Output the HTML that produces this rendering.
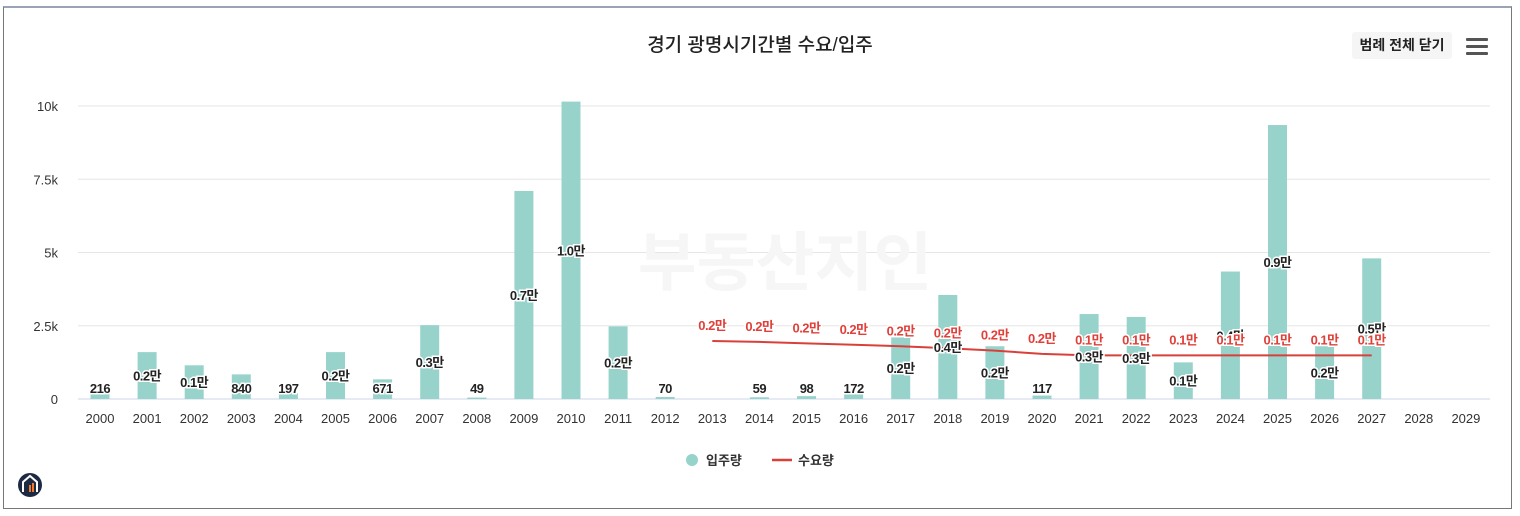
<!DOCTYPE html>
<html><head><meta charset="utf-8">
<style>
html,body{margin:0;padding:0;background:#fff;}
body{width:1520px;height:516px;overflow:hidden;position:relative;font-family:"Liberation Sans","Noto Sans CJK KR",sans-serif;}
#frame{position:absolute;left:3px;top:6px;width:1509px;height:503px;border:1px solid #777;border-top:2px solid #9aa4b4;box-sizing:border-box;}
#title{position:absolute;left:0;width:1520px;top:30px;text-align:center;font-size:19px;color:#222;font-weight:500;}
#legend-btn{position:absolute;left:1352px;top:32px;width:100px;height:27px;background:#f5f5f5;border-radius:3px;font-size:14px;font-weight:bold;color:#222;text-align:center;line-height:27px;}
#menu{position:absolute;left:1466px;top:38px;width:22px;height:17px;}
#menu div{height:3px;background:#555;margin-bottom:4px;border-radius:1px;}
svg{position:absolute;left:0;top:0;}
</style></head><body>
<div id="frame"></div>
<div id="title">경기 광명시기간별 수요/입주</div>
<div id="legend-btn">범례 전체 닫기</div>
<div id="menu"><div></div><div></div><div></div></div>
<svg id="chart" width="1520" height="516"></svg>
<script>
const years=[2000,2001,2002,2003,2004,2005,2006,2007,2008,2009,2010,2011,2012,2013,2014,2015,2016,2017,2018,2019,2020,2021,2022,2023,2024,2025,2026,2027,2028,2029];
const supply=[216,1600,1150,840,197,1600,671,2520,49,7100,10150,2480,70,0,59,98,172,2100,3550,1800,117,2900,2800,1250,4350,9350,1800,4800,null,null];
const demandYears=[2013,2014,2015,2016,2017,2018,2019,2020,2021,2022,2023,2024,2025,2026,2027];
const demand=[1980,1950,1900,1850,1800,1730,1650,1540,1490,1490,1490,1490,1490,1490,1490];
const yTicks=[0,2500,5000,7500,10000];
const yTickLabels=["0","2.5k","5k","7.5k","10k"];

const NS="http://www.w3.org/2000/svg";
const svg=document.getElementById('chart');
const x0=100, dx=47.1, y0=399, kpx=29.3/1000;
const X=y=>x0+(y-2000)*dx;
const Y=v=>y0-v*kpx;
function mk(t,a,txt){const e=document.createElementNS(NS,t);for(const k in a)e.setAttribute(k,a[k]);if(txt!=null)e.textContent=txt;svg.appendChild(e);return e;}
const fmt=v=>v<1000?String(v):(Math.round(v/1000)/10).toFixed(1)+'만';

yTicks.forEach((t,i)=>{
 const g=mk('line',{x1:78,x2:1490,y1:Y(t),y2:Y(t),stroke:i==0?'#ccd6eb':'#e6e6e6','stroke-width':1});
 
 
 const l=mk('text',{x:58,y:Y(t)+5,'text-anchor':'end','font-size':13,fill:'#333'},yTickLabels[i]);
 
 
});
years.forEach(y=>{
 const l=mk('text',{x:X(y),y:423,'text-anchor':'middle','font-size':13,fill:'#333'},String(y));
 
 
});
const wm=mk('text',{x:785,y:285,'text-anchor':'middle','font-size':64,'font-weight':'bold',fill:'#f6f6f6'},'부동산지인');


const bw=19;
years.forEach((y,i)=>{
 const v=supply[i]; if(v==null||v===0)return;
 const r=mk('rect',{x:X(y)-bw/2,y:Y(v),width:bw,height:y0-Y(v),fill:'#97d3cb'});
 
 
});
let d='';demandYears.forEach((y,i)=>{d+=(i?'L':'M')+X(y)+' '+Y(demand[i]);});
const ln=mk('path',{d:d,fill:'none',stroke:'#d9403a','stroke-width':2});


years.forEach((y,i)=>{
 const v=supply[i]; if(v==null||v===0)return;
 const ly=v<1000?393:(Y(v)+y0)/2+5;
 const t=mk('text',{x:X(y),y:ly,'text-anchor':'middle','font-size':13,'font-weight':'bold',fill:'#222',stroke:'#fff','stroke-width':3,'paint-order':'stroke','letter-spacing':'-0.5'},fmt(v));
 
 
});
demandYears.forEach((y,i)=>{
 const t=mk('text',{x:X(y),y:Y(demand[i])-11,'text-anchor':'middle','font-size':13,'font-weight':'bold',fill:'#e0403a',stroke:'#fff','stroke-width':3,'paint-order':'stroke','letter-spacing':'-0.5'},fmt(demand[i]));
 
 
});
const c=mk('circle',{cx:692,cy:460,r:6,fill:'#97d3cb'});


const t1=mk('text',{x:706,y:465,'font-size':13,'font-weight':'bold',fill:'#333'},'입주량');


const l2=mk('line',{x1:772,x2:792,y1:460,y2:460,stroke:'#d9403a','stroke-width':2.5});


const t2=mk('text',{x:798,y:465,'font-size':13,'font-weight':'bold',fill:'#333'},'수요량');


const lg=mk('ellipse',{cx:30,cy:485,rx:12,ry:12,fill:'#1d2a44'});


mk('path',{d:'M23 492 L23 482 L30 476 L37 482 L37 492',fill:'none',stroke:'#fff','stroke-width':2});
mk('rect',{x:29,y:485,width:2,height:7,fill:'#f07a2a'});
mk('rect',{x:32,y:483,width:2,height:9,fill:'#f07a2a'});
</script>
</body></html>
